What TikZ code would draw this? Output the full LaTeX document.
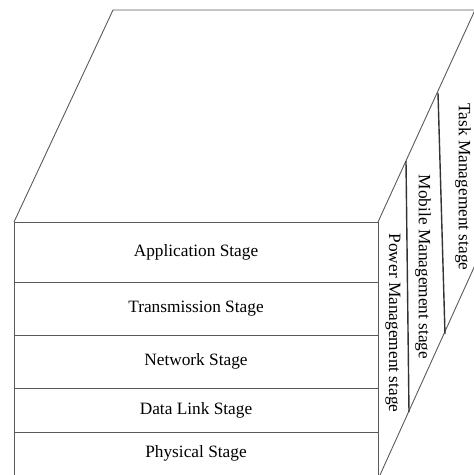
\documentclass[tikz,border=0pt]{standalone}
\usepackage{fontspec}
\setmainfont{Liberation Serif}
\definecolor{edgegray}{HTML}{5A5A5A}
\begin{document}
\begin{tikzpicture}[x=1pt, y=-1pt,
  frame/.style={draw=edgegray, line width=0.9pt},
  divider/.style={draw=black!80, line width=1.4pt},
  stagelabel/.style={font=\fontsize{17.3}{20}\selectfont, inner sep=0pt},
  sidelabel/.style={font=\fontsize{17.3}{20}\selectfont, inner sep=0pt, rotate=-90}]
\useasboundingbox (0,0) rectangle (474,475);
% corners of the block
\coordinate (FTL) at (14,222);
\coordinate (FTR) at (378,222);
\coordinate (FBL) at (14,475);
\coordinate (FBR) at (378,475);
\coordinate (SBR) at (380,475);
\coordinate (BTL) at (113,10);
\coordinate (BTR) at (475,10);
\coordinate (BBR) at (476,263);
% stage boundaries on the front face
\coordinate (L1) at (14,282);  \coordinate (R1) at (378,282);
\coordinate (L2) at (14,335);  \coordinate (R2) at (378,335);
\coordinate (L3) at (14,388);  \coordinate (R3) at (378,388);
\coordinate (L4) at (14,432);  \coordinate (R4) at (378,432);
% side dividers
\coordinate (P1) at (406,161); \coordinate (Q1) at (409,412);
\coordinate (P2) at (438,93);  \coordinate (Q2) at (445,334);
\node[stagelabel] (app) at (196,252) {Application Stage};
\node[stagelabel] (trans) at (196,308.5) {Transmission Stage};
\node[stagelabel] (net) at (196,361.5) {Network Stage};
\node[stagelabel] (link) at (196,410) {Data Link Stage};
\node[stagelabel] (phys) at (196,453.5) {Physical Stage};
\node[sidelabel] (power) at (393,323) {Power Management stage};
\node[sidelabel] (mobile) at (423,267) {Mobile Management stage};
\node[sidelabel] (task) at (463,187) {Task Management stage};
\path[frame] (FBL) -- (FTL) -- (FTR) -- (FBR);
\path[frame] (FTL) -- (BTL) -- (BTR);
\path[frame] (FTR) -- (BTR);
\path[frame] (SBR) -- (BBR);
\path[frame] (L1) edge (R1) (L2) edge (R2) (L3) edge (R3) (L4) edge (R4);
\path[divider] (P1) edge (Q1) (P2) edge (Q2);
\end{tikzpicture}
\end{document}
